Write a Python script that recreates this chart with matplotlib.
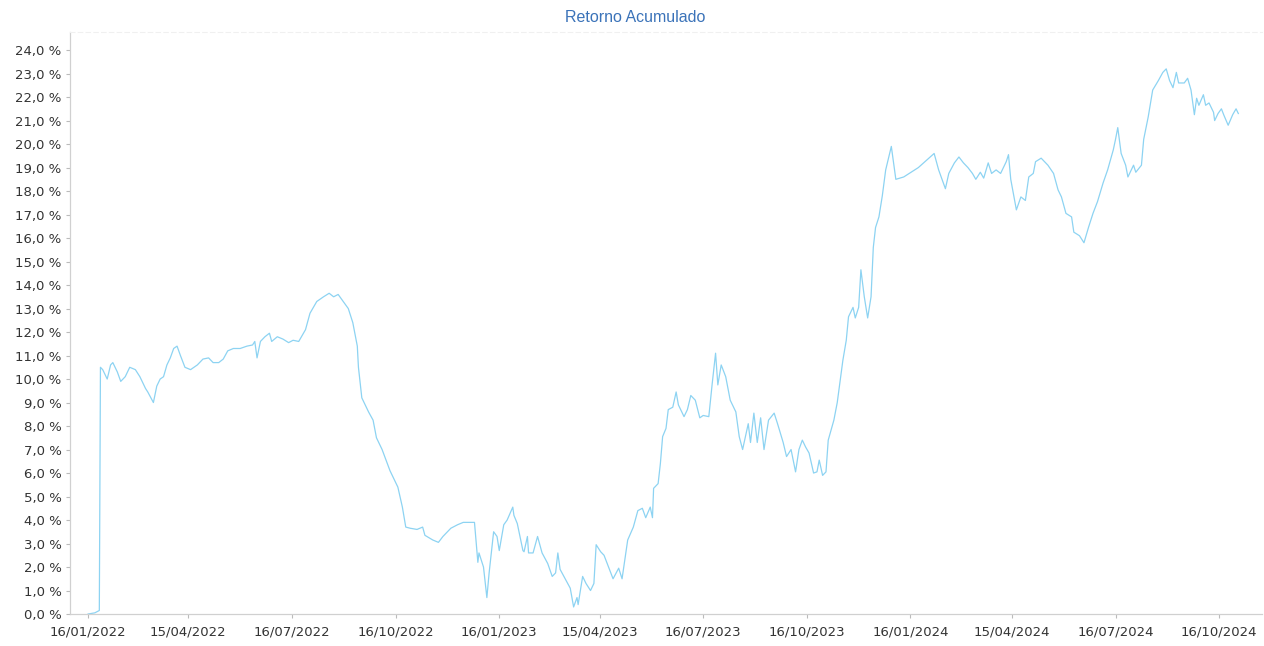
import pandas as pd
import matplotlib
matplotlib.use('Agg')
import matplotlib.pyplot as plt
import matplotlib.dates as mdates
from matplotlib.ticker import FuncFormatter, MultipleLocator

# dias desde 16/01/2022 e retorno acumulado (%)
start = pd.Timestamp('2022-01-16')
dias = [0, 6, 10, 11, 13, 17, 20, 22, 26, 29, 33, 37, 42, 46, 51, 53, 58, 61, 64, 67,
        70, 73, 76, 79, 82, 86, 91, 97, 102, 107, 111, 116, 120, 124, 129, 135, 141, 146, 148, 150,
        153, 157, 161, 163, 168, 173, 178, 182, 187, 193, 197, 203, 209, 214, 218, 222, 228, 231, 235, 239,
        240, 243, 249, 253, 256, 261, 268, 275, 279, 282, 286, 292, 297, 299, 306, 311, 315, 322, 328, 333,
        339, 343, 346, 347, 351, 354, 356, 360, 363, 365, 369, 372, 377, 378, 381, 386, 387, 390, 391, 395,
        399, 403, 408, 412, 415, 417, 419, 424, 428, 431, 434, 435, 439, 442, 446, 449, 451, 455, 458, 462,
        466, 471, 474, 479, 484, 488, 492, 495, 499, 501, 502, 506, 508, 510, 513, 515, 519, 522, 524, 529,
        532, 535, 539, 543, 546, 551, 554, 557, 559, 562, 566, 570, 575, 578, 581, 586, 588, 591, 594, 597,
        600, 604, 609, 612, 617, 620, 624, 628, 631, 634, 637, 640, 644, 647, 649, 652, 655, 657, 662, 665,
        670, 673, 675, 679, 681, 684, 686, 689, 692, 695, 697, 699, 702, 704, 705, 708, 713, 717, 724, 737,
        751, 755, 761, 764, 769, 773, 777, 781, 785, 788, 792, 795, 799, 802, 806, 810, 815, 817, 819, 824,
        828, 832, 835, 839, 841, 846, 852, 857, 861, 864, 868, 873, 875, 880, 884, 888, 892, 896, 901, 905,
        910, 912, 914, 917, 921, 923, 928, 930, 935, 937, 941, 945, 950, 954, 957, 960, 963, 966, 968, 973,
        976, 979, 982, 984, 986, 990, 992, 995, 999, 1000, 1003, 1006, 1008, 1012, 1016, 1019, 1021]
retorno = [0.0, 0.05, 0.15, 10.5, 10.4, 10.0, 10.6, 10.7, 10.3, 9.9, 10.1, 10.5, 10.4, 10.1, 9.6, 9.45, 9.0, 9.7, 10.0, 10.1,
           10.6, 10.9, 11.3, 11.4, 11.0, 10.5, 10.4, 10.6, 10.85, 10.9, 10.7, 10.7, 10.85, 11.2, 11.3, 11.3, 11.4, 11.45, 11.6, 10.9,
           11.6, 11.8, 11.95, 11.6, 11.8, 11.7, 11.55, 11.65, 11.6, 12.1, 12.8, 13.3, 13.5, 13.65, 13.5, 13.6, 13.2, 13.0, 12.4, 11.4,
           10.5, 9.2, 8.6, 8.25, 7.5, 7.0, 6.1, 5.4, 4.55, 3.7, 3.65, 3.6, 3.7, 3.35, 3.15, 3.05, 3.3, 3.65, 3.8, 3.9,
           3.9, 3.9, 2.2, 2.6, 2.0, 0.7, 1.75, 3.5, 3.3, 2.7, 3.8, 4.0, 4.55, 4.2, 3.85, 2.7, 2.65, 3.3, 2.6, 2.6,
           3.3, 2.6, 2.15, 1.6, 1.75, 2.6, 1.9, 1.45, 1.1, 0.3, 0.7, 0.4, 1.6, 1.3, 1.0, 1.3, 2.95, 2.65, 2.5, 2.0,
           1.5, 1.95, 1.5, 3.15, 3.7, 4.4, 4.5, 4.1, 4.55, 4.1, 5.35, 5.55, 6.4, 7.55, 7.9, 8.7, 8.8, 9.45, 8.9, 8.4,
           8.7, 9.3, 9.1, 8.35, 8.45, 8.4, 9.8, 11.1, 9.75, 10.6, 10.1, 9.1, 8.6, 7.55, 7.0, 8.1, 7.3, 8.55, 7.3, 8.35,
           7.0, 8.25, 8.55, 8.1, 7.3, 6.7, 7.0, 6.05, 7.0, 7.4, 7.1, 6.85, 6.0, 6.05, 6.55, 5.9, 6.05, 7.4, 8.25, 9.0,
           10.8, 11.65, 12.65, 13.05, 12.6, 13.05, 14.65, 13.5, 12.6, 13.5, 15.6, 16.45, 16.9, 17.5, 17.8, 18.9, 19.9, 18.5, 18.6, 19.0,
           19.6, 18.9, 18.1, 18.75, 19.2, 19.45, 19.2, 19.0, 18.75, 18.5, 18.8, 18.55, 19.2, 18.75, 18.9, 18.75, 19.25, 19.55, 18.5, 17.2,
           17.75, 17.6, 18.6, 18.75, 19.25, 19.4, 19.1, 18.75, 18.05, 17.75, 17.05, 16.9, 16.25, 16.1, 15.8, 16.45, 17.05, 17.55, 18.35, 18.9,
           19.75, 20.2, 20.7, 19.6, 19.1, 18.6, 19.1, 18.8, 19.1, 20.2, 21.15, 22.3, 22.7, 23.05, 23.2, 22.7, 22.4, 23.05, 22.6, 22.6,
           22.8, 22.3, 21.25, 21.95, 21.65, 22.1, 21.65, 21.75, 21.35, 21.0, 21.3, 21.5, 21.25, 20.8, 21.25, 21.5, 21.3]

tick_dates = ['2022-01-16', '2022-04-15', '2022-07-16', '2022-10-16',
              '2023-01-16', '2023-04-15', '2023-07-16', '2023-10-16',
              '2024-01-16', '2024-04-15', '2024-07-16', '2024-10-16']

datas = start + pd.to_timedelta(dias, unit='D')

fig = plt.figure(figsize=(12.64, 6.46), dpi=100)
ax = fig.add_axes([0.0554, 0.0495, 0.943, 0.901])

ax.plot(datas, retorno, color='#8dd3f2', linewidth=0.9)

ax.set_xlim(pd.Timestamp('2021-12-31'), pd.Timestamp('2024-11-23'))
ax.set_ylim(0, 24.77)
ax.yaxis.set_major_locator(MultipleLocator(1))
ax.yaxis.set_major_formatter(FuncFormatter(lambda v, p: f"{v:.1f} %".replace('.', ',')))
ax.set_xticks(pd.to_datetime(tick_dates))
ax.xaxis.set_major_formatter(mdates.DateFormatter('%d/%m/%Y'))

ax.tick_params(axis='both', labelsize=9.5, labelcolor='#333333', color='#bbbbbb',
               length=3, width=0.8)
ax.tick_params(axis='x', pad=5)
ax.tick_params(axis='y', pad=3)

for side in ['left', 'bottom']:
    ax.spines[side].set_color('#d0d0d0')
    ax.spines[side].set_linewidth(0.9)
ax.spines['top'].set_color('#f0f0f0')
ax.spines['top'].set_linestyle((0, (4, 3)))
ax.spines['right'].set_visible(False)

fig.text(0.5025, 0.973, 'Retorno Acumulado', ha='center', va='center',
         color='#3b73b9', fontsize=11.5, family=['Liberation Sans', 'DejaVu Sans'])

plt.savefig('out.png', dpi=100)
plt.close()
